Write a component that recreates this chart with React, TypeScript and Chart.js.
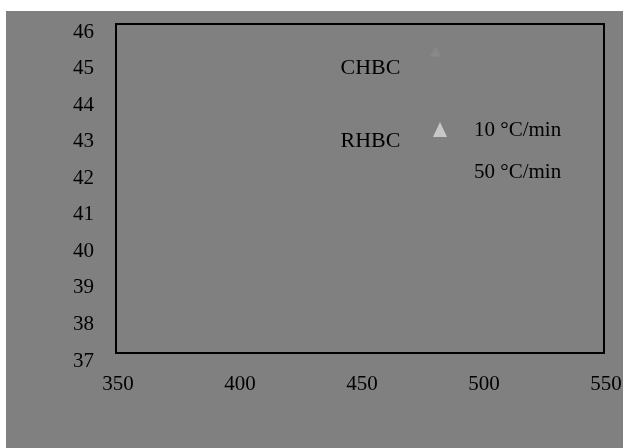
import React, { useEffect, useRef } from "react";
import { Chart, registerables } from "chart.js";

Chart.register(...registerables);

// ---- data ----
const xTicks = [350, 400, 450, 500, 550];
const yTicks = [37, 38, 39, 40, 41, 42, 43, 44, 45, 46];
const seriesLabels = ["10 °C/min", "50 °C/min"];
const series10X = [481];
const series10Y = [45.2];
const series50X: number[] = [];
const series50Y: number[] = [];
const annotationTexts = ["CHBC", "RHBC"];
const annotationX = [442, 442];
const annotationY = [44.8, 42.8];

// ---- styles ----
const FONT = "'Liberation Serif', 'Times New Roman', serif";
const BG = "#808080";
const MARKER_10 = "#c8c8c8";
const POINT_10 = "#888888";
const POINT_50 = "#808080";

const decorPlugin = {
  id: "decor",
  beforeDraw(chart: any) {
    const ctx = chart.ctx;
    ctx.save();
    ctx.fillStyle = "#ffffff";
    ctx.fillRect(0, 0, chart.width, chart.height);
    ctx.fillStyle = BG;
    ctx.fillRect(6, 11, 617, 437);
    ctx.restore();
  },
  afterDraw(chart: any) {
    const ctx = chart.ctx;
    const a = chart.chartArea;
    const xs = chart.scales.x;
    const ys = chart.scales.y;
    ctx.save();
    // frame
    ctx.strokeStyle = "#000000";
    ctx.lineWidth = 2;
    ctx.strokeRect(a.left, a.top, a.right - a.left, a.bottom - a.top);
    // annotations
    ctx.fillStyle = "#000000";
    ctx.font = `22px ${FONT}`;
    ctx.textAlign = "left";
    ctx.textBaseline = "middle";
    annotationTexts.forEach((t, i) => {
      ctx.fillText(t, xs.getPixelForValue(annotationX[i]), ys.getPixelForValue(annotationY[i]));
    });
    // legend
    const ds = chart.data.datasets;
    const lx = 440;
    const ly = 129;
    const gap = 42;
    ds.forEach((d: any, i: number) => {
      const cy = ly + i * gap;
      if (d.pointStyle === "triangle") {
        ctx.fillStyle = MARKER_10;
        ctx.beginPath();
        ctx.moveTo(lx, cy - 7);
        ctx.lineTo(lx + 7, cy + 8);
        ctx.lineTo(lx - 7, cy + 8);
        ctx.closePath();
        ctx.fill();
      } else {
        ctx.fillStyle = d.backgroundColor;
        ctx.beginPath();
        ctx.arc(lx, cy, 6, 0, Math.PI * 2);
        ctx.fill();
      }
      ctx.fillStyle = "#000000";
      ctx.font = `21px ${FONT}`;
      ctx.textAlign = "left";
      ctx.textBaseline = "middle";
      ctx.fillText(d.label, 474, cy + 1);
    });
    ctx.restore();
  },
};

export default function App() {
  const ref = useRef<HTMLCanvasElement | null>(null);
  useEffect(() => {
    if (!ref.current) return;
    const chart = new Chart(ref.current, {
      type: "scatter",
      data: {
        datasets: [
          {
            label: seriesLabels[0],
            data: series10X.map((x, i) => ({ x, y: series10Y[i] })),
            pointStyle: "triangle",
            backgroundColor: POINT_10,
            borderColor: POINT_10,
            pointRadius: 6,
          },
          {
            label: seriesLabels[1],
            data: series50X.map((x, i) => ({ x, y: series50Y[i] })),
            pointStyle: "circle",
            backgroundColor: POINT_50,
            borderColor: POINT_50,
            pointRadius: 5,
          },
        ],
      },
      options: {
        animation: false,
        responsive: false,
        maintainAspectRatio: false,
        devicePixelRatio: 1,
        layout: { padding: { left: 0, top: 24, right: 20, bottom: 0 } },
        plugins: { legend: { display: false }, tooltip: { enabled: false } },
        scales: {
          x: {
            type: "linear",
            min: xTicks[0],
            max: xTicks[xTicks.length - 1],
            afterBuildTicks: (s: any) => {
              s.ticks = xTicks.map((v) => ({ value: v }));
            },
            afterFit: (s: any) => {
              s.height = 95;
              s.paddingLeft = 0;
              s.paddingRight = 0;
              s.paddingTop = 0;
              s.paddingBottom = 0;
            },
            grid: { display: false, drawTicks: false },
            border: { display: false },
            ticks: {
              color: "#000000",
              font: { family: FONT, size: 21 },
              padding: 19,
              labelOffset: 2,
              maxRotation: 0,
              autoSkip: false,
            },
          },
          y: {
            type: "linear",
            min: yTicks[0],
            max: yTicks[yTicks.length - 1],
            afterBuildTicks: (s: any) => {
              s.ticks = yTicks.map((v) => ({ value: v }));
            },
            afterFit: (s: any) => {
              s.width = 116;
              s.paddingLeft = 0;
              s.paddingRight = 0;
              s.paddingTop = 0;
              s.paddingBottom = 0;
            },
            grid: { display: false, drawTicks: false },
            border: { display: false },
            ticks: {
              color: "#000000",
              font: { family: FONT, size: 21 },
              padding: 22,
              labelOffset: 8,
              autoSkip: false,
            },
          },
        },
      },
      plugins: [decorPlugin],
    });
    return () => chart.destroy();
  }, []);
  return (
    <div style={{ position: "absolute", left: 0, top: 0, width: 624, height: 448 }}>
      <canvas ref={ref} width={624} height={448} style={{ display: "block" }} />
    </div>
  );
}
